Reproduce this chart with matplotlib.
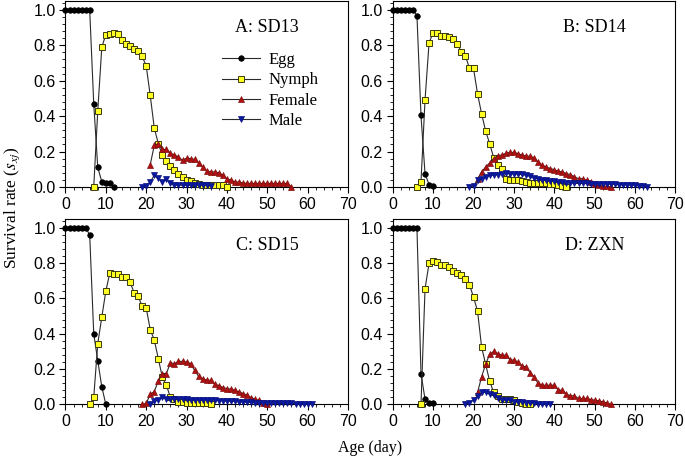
import numpy as np
import matplotlib
matplotlib.use("Agg")
import matplotlib.pyplot as plt
from matplotlib.ticker import MultipleLocator, FormatStrFormatter

# survival rate by age (day); each series starts at the given day
egg_a_start, egg_a = 0, [1, 1, 1, 1, 1, 1, 1, .47, .11, .03, .025, .02, 0]
nymph_a_start, nymph_a = 7, [0, .43, .79, .86, .865, .87, .865, .83, .81, .795, .78, .765, .737, .684,
                             .517, .333, .245, .179, .147, .117, .094, .075, .056, .041, .032, .022,
                             .015, .012, .01, .01, .01, .01, .01, 0]
female_a_start, female_a = 21, [.126, .235, .245, .212, .212, .19, .18, .17, .15, .163, .16, .156, .135,
                                .113, .09, .085, .085, .08, .066, .047, .038, .028, .028, .022,
                                .02, .02, .02, .02, .02, .02, .02, .02, .02, .02, .02, 0]
male_a_start, male_a = 19, [0, .008, .028, .066, .048, .03, .045, .02, .012,
                            .01, .01, .01, .01, .01, .01, .01, .01, .005]

egg_b_start, egg_b = 0, [1, 1, 1, 1, 1, 1, .968, .404, .075, .013, .006]
nymph_b_start, nymph_b = 6, [0, .03, .49, .815, .87, .87, .855, .85, .846, .833, .81, .76, .74, .67, .67,
                             .526, .414, .316, .245, .165, .125, .10, .045, .042, .04, .038, .035, .03,
                             .025, .022, .02, .02, .02, .018, .015, .012, .008, 0]
female_b_start, female_b = 21, [.045, .085, .113, .135, .16, .177, .18, .19, .195, .195, .188, .18, .175,
                                .173, .165, .14, .122, .113, .104, .098, .088, .085, .075, .07, .057,
                                .047, .047, .038, .028, .015, .01, .006, .004, 0]
male_b_start, male_b = 19, [0, .005, .038, .043, .056, .066, .066, .07, .075, .079, .075, .075, .071, .071,
                            .066, .06, .053, .047, .04, .04, .036, .032, .026, .026, .023, .023,
                            .02, .02, .02, .02, .018, .018, .018, .018, .016, .016,
                            .016, .014, .014, .012, .012, .01, .008, .006, 0]

egg_c_start, egg_c = 0, [1, 1, 1, 1, 1, 1, .96, .40, .247, .10, 0]
nymph_c_start, nymph_c = 6, [0, .04, .345, .495, .642, .746, .74, .74, .72, .72, .693, .633, .612, .556,
                             .546, .424, .365, .26, .153, .11, .04, .03, .015, .012, .01, .008, .008,
                             .008, .008, .006, 0]
female_c_start, female_c = 19, [0, .006, .058, .073, .133, .175, .175, .236, .231, .244, .244, .24, .231,
                                .193, .159, .146, .137, .137, .114, .107, .096, .09, .087, .081, .071,
                                .062, .052, .039, .03, .024, .01, 0]
male_c_start, male_c = 21, [0, .018, .025, .04, .03, .03, .03, .03, .03, .03, .028, .028, .028, .028, .028,
                            .025, .025, .022, .022, .02, .018, .018, .015, .015, .012, .012, .01, .01,
                            .01, .008, .008, .008, .006, .006, .006, .006, .005, .005, .005, .005, 0]

egg_d_start, egg_d = 0, [1, 1, 1, 1, 1, 1, 1, .175, .03, .011, .006]
nymph_d_start, nymph_d = 7, [0, .655, .80, .81, .806, .79, .79, .778, .755, .746, .734, .708, .678, .608,
                             .529, .326, .228, .132, .068, .05, .03, .03, .03, .025, .015, .01, .005, 0]
female_d_start, female_d = 21, [.068, .156, .228, .284, .30, .288, .279, .279, .254, .25, .241, .217, .213,
                                .181, .156, .119, .109, .109, .109, .109, .081, .081, .058, .049, .049,
                                .034, .034, .034, .028, .024, .021, .015, .009, 0]
male_d_start, male_d = 18, [0, .01, .025, .05, .068, .068, .058, .053, .038, .025, .025, .025, .015, .015,
                            .015, .01, .01, .006, .005, .005, .005, 0]

panel_titles = ["A: SD13", "B: SD14", "C: SD15", "D: ZXN"]
stage_names = ["Egg", "Nymph", "Female", "Male"]

panels = [
    [(egg_a_start, egg_a), (nymph_a_start, nymph_a), (female_a_start, female_a), (male_a_start, male_a)],
    [(egg_b_start, egg_b), (nymph_b_start, nymph_b), (female_b_start, female_b), (male_b_start, male_b)],
    [(egg_c_start, egg_c), (nymph_c_start, nymph_c), (female_c_start, female_c), (male_c_start, male_c)],
    [(egg_d_start, egg_d), (nymph_d_start, nymph_d), (female_d_start, female_d), (male_d_start, male_d)],
]

styles = [
    dict(marker="o", ms=4, mfc="black", mec="black", mew=0.5),
    dict(marker="s", ms=4.8, mfc="#ffff22", mec="#3a3a10", mew=0.7),
    dict(marker="^", ms=5, mfc="#b01010", mec="#801010", mew=0.5),
    dict(marker="v", ms=5, mfc="#0a1aa0", mec="#0a1080", mew=0.5),
]

serif = "Liberation Serif"
sans = "Liberation Sans"
plt.rcParams["mathtext.fontset"] = "stix"

fig = plt.figure(figsize=(6.85, 4.61), dpi=100)
positions = [
    [0.0956, 0.5944, 0.4124, 0.4034],
    [0.5733, 0.5944, 0.4128, 0.4034],
    [0.0956, 0.1226, 0.4124, 0.4024],
    [0.5733, 0.1226, 0.4128, 0.4024],
]

for i, pos in enumerate(positions):
    ax = fig.add_axes(pos)
    for (start, vals), st, name in zip(panels[i], styles, stage_names):
        days = np.arange(start, start + len(vals))
        ax.plot(days, vals, color="#2a2a2a", lw=0.8, label=name, clip_on=False, zorder=3, **st)
    ax.set_xlim(0, 70)
    ax.set_ylim(0, 1.05)
    ax.xaxis.set_major_locator(MultipleLocator(10))
    ax.xaxis.set_minor_locator(MultipleLocator(2))
    ax.yaxis.set_major_locator(MultipleLocator(0.2))
    ax.yaxis.set_minor_locator(MultipleLocator(0.04))
    ax.yaxis.set_major_formatter(FormatStrFormatter("%.1f"))
    ax.tick_params(which="major", direction="out", length=4, width=0.8, labelsize=11.5, pad=3)
    ax.tick_params(which="minor", direction="out", length=2, width=0.6)
    for lab in ax.get_xticklabels() + ax.get_yticklabels():
        lab.set_fontfamily(sans)
    for sp in ax.spines.values():
        sp.set_linewidth(0.8)
    ax.text(50, 0.90, panel_titles[i], ha="center", va="center", fontsize=13, fontfamily=serif)
    if i == 0:
        ax.legend(loc="upper left", bbox_to_anchor=(0.553, 0.725), frameon=False,
                  prop={"family": serif, "size": 12}, handlelength=2.3, handletextpad=0.5,
                  labelspacing=0.26, borderpad=0, borderaxespad=0)

fig.text(0.018, 0.55, r"Survival rate ($s_{xj}$)", rotation=90, ha="center", va="center",
         fontsize=12.5, fontfamily=serif)
fig.text(0.54, 0.028, "Age (day)", ha="center", va="center", fontsize=11.5, fontfamily=serif)

fig.savefig("out.png", dpi=100)
